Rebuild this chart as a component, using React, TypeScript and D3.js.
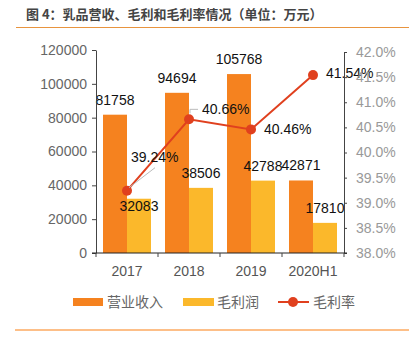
import React, { useEffect, useRef } from 'react';
import * as d3 from 'd3';

const categories = ['2017', '2018', '2019', '2020H1'];
const revenue = [81758, 94694, 105768, 42871];
const grossProfit = [32083, 38506, 42788, 17810];
const grossMargin = [39.24, 40.66, 40.46, 41.54];
const leftTicks = [0, 20000, 40000, 60000, 80000, 100000, 120000];
const rightTicks = [38, 38.5, 39, 39.5, 40, 40.5, 41, 41.5, 42];

const ORANGE = '#F5821F';
const YELLOW = '#FBB82B';
const RED = '#E0401E';

const App: React.FC = () => {
  const ref = useRef<SVGSVGElement>(null);

  useEffect(() => {
    if (!ref.current) return;
    const svg = d3.select(ref.current);
    svg.selectAll('*').remove();

    const font = 'Arial, "Liberation Sans", "Noto Sans CJK SC", sans-serif';
    const left = 96, right = 344, top = 50, bottom = 253;

    // title + rules
    svg.append('text')
      .attr('x', 26).attr('y', 19)
      .style('font-family', '"Noto Sans CJK SC", sans-serif')
      .style('font-size', '13px').style('font-weight', 'bold')
      .attr('fill', '#444')
      .text('图 4：乳品营收、毛利和毛利率情况（单位：万元）');
    svg.append('line').attr('x1', 16).attr('x2', 409).attr('y1', 27.5).attr('y2', 27.5)
      .attr('stroke', '#E8943E').attr('stroke-width', 1);
    svg.append('line').attr('x1', 15).attr('x2', 409).attr('y1', 330).attr('y2', 330)
      .attr('stroke', '#FDBF88').attr('stroke-width', 2);

    const x = d3.scaleBand().domain(categories).range([left, right]).paddingInner(0.226).paddingOuter(0.113);
    const y = d3.scaleLinear().domain([0, 120000]).range([bottom, top]);
    const y2 = d3.scaleLinear().domain([38, 42]).range([bottom, top + 2]);
    const bw = x.bandwidth() / 2;

    const step = (right - left) / categories.length;
    const xTickPos = d3.range(categories.length + 1).map(i => left + i * step);

    const g = svg.append('g');

    // bars
    g.selectAll('rect.rev').data(revenue).enter().append('rect')
      .attr('x', (_, i) => x(categories[i])!)
      .attr('y', d => y(d)).attr('width', bw).attr('height', d => bottom - y(d))
      .attr('fill', ORANGE);
    g.selectAll('rect.gp').data(grossProfit).enter().append('rect')
      .attr('x', (_, i) => x(categories[i])! + bw)
      .attr('y', d => y(d)).attr('width', bw).attr('height', d => bottom - y(d))
      .attr('fill', YELLOW);

    // axes
    const leftAxis = svg.append('g').attr('transform', `translate(${left},0)`)
      .call(d3.axisLeft(y).tickValues(leftTicks).tickSize(4).tickSizeOuter(0).tickPadding(5)
        .tickFormat(d3.format('d') as any));
    leftAxis.select('.domain').attr('stroke', '#444');
    leftAxis.selectAll('line').attr('stroke', '#444');
    leftAxis.selectAll('text').style('font-family', font).style('font-size', '14px').attr('fill', '#666');

    const rightAxis = svg.append('g').attr('transform', `translate(${right},0)`)
      .call(d3.axisRight(y2).tickValues(rightTicks).tickSize(3).tickSizeOuter(0).tickPadding(9)
        .tickFormat(d => `${(+d).toFixed(1)}%`));
    rightAxis.select('.domain').attr('stroke', '#444');
    rightAxis.selectAll('line').attr('stroke', '#444');
    rightAxis.selectAll('text').style('font-family', font).style('font-size', '14px').attr('fill', '#999');

    svg.append('line').attr('x1', left - 4).attr('x2', right + 3).attr('y1', bottom).attr('y2', bottom)
      .attr('stroke', '#222').attr('stroke-width', 1);
    svg.selectAll('line.xt').data(xTickPos).enter().append('line')
      .attr('x1', d => d).attr('x2', d => d).attr('y1', bottom).attr('y2', bottom + 4)
      .attr('stroke', '#444');
    svg.selectAll('text.xl').data(categories).enter().append('text')
      .attr('x', d => x(d)! + x.bandwidth() / 2).attr('y', 276)
      .attr('text-anchor', 'middle')
      .style('font-family', font).style('font-size', '14px').attr('fill', '#555')
      .text(d => d);

    // line
    const lx = (i: number) => x(categories[i])! + bw;
    const line = d3.line<number>().x((_, i) => lx(i)).y(d => y2(d));
    g.append('path').datum(grossMargin).attr('d', line)
      .attr('fill', 'none').attr('stroke', RED).attr('stroke-width', 2);
    g.selectAll('circle.m').data(grossMargin).enter().append('circle')
      .attr('cx', (_, i) => lx(i)).attr('cy', d => y2(d)).attr('r', 5).attr('fill', RED);

    // bar labels
    const labelStyle = (sel: any) => sel.style('font-family', font).style('font-size', '14px').attr('fill', '#111');
    const revOffset = [-10, -10, -10, -10];
    const gpOffset = [12, -10, -10, -10];
    g.selectAll('text.rl').data(revenue).enter().append('text')
      .attr('x', (_, i) => x(categories[i])! + bw / 2)
      .attr('y', (d, i) => y(d) + revOffset[i])
      .attr('text-anchor', 'middle').call(labelStyle).text(d => d);
    g.selectAll('text.gl').data(grossProfit).enter().append('text')
      .attr('x', (_, i) => x(categories[i])! + bw * 1.5)
      .attr('y', (d, i) => y(d) + gpOffset[i])
      .attr('text-anchor', 'middle').call(labelStyle).text(d => d);

    // margin labels
    const mdx = [4, 13, 13, 13];
    const mdy = [-34, -10, 0, -2];
    g.selectAll('text.ml').data(grossMargin).enter().append('text')
      .attr('x', (_, i) => lx(i) + mdx[i])
      .attr('y', (d, i) => y2(d) + mdy[i] + 5)
      .call(labelStyle).text(d => `${d.toFixed(2)}%`);
    // leader lines
    const p0 = [lx(0), y2(grossMargin[0])];
    g.append('polyline')
      .attr('points', `${p0[0] + 2},${p0[1] - 3} ${p0[0] + 28},${p0[1] - 23}`)
      .attr('fill', 'none').attr('stroke', '#bbb');
    const p1 = [lx(1), y2(grossMargin[1])];
    g.append('polyline')
      .attr('points', `${p1[0] + 1},${p1[1] - 6} ${p1[0] + 1},${p1[1] - 10} ${p1[0] + 9},${p1[1] - 10}`)
      .attr('fill', 'none').attr('stroke', '#bbb');

    // legend
    const ly = 302;
    const legend = svg.append('g');
    legend.append('rect').attr('x', 73).attr('y', ly - 4).attr('width', 30).attr('height', 8).attr('fill', ORANGE);
    legend.append('rect').attr('x', 183).attr('y', ly - 4).attr('width', 31).attr('height', 8).attr('fill', YELLOW);
    legend.append('line').attr('x1', 278).attr('x2', 309).attr('y1', ly).attr('y2', ly).attr('stroke', RED).attr('stroke-width', 2);
    legend.append('circle').attr('cx', 293).attr('cy', ly).attr('r', 5).attr('fill', RED);
    const lt = [['营业收入', 107], ['毛利润', 217], ['毛利率', 313]] as const;
    legend.selectAll('text').data(lt).enter().append('text')
      .attr('x', d => d[1]).attr('y', ly + 5)
      .style('font-family', '"Noto Sans CJK SC", sans-serif').style('font-size', '14px').attr('fill', '#666')
      .text(d => d[0]);
  }, []);

  return <svg ref={ref} width={418} height={352} style={{ position: 'absolute', left: 0, top: 0, background: '#fff' }} />;
};

export default App;
